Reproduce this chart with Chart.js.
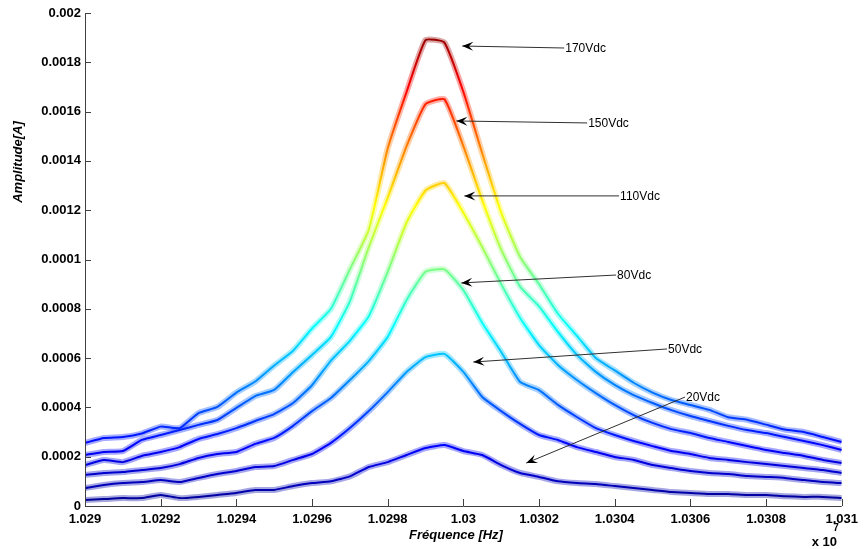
<!DOCTYPE html>
<html>
<head>
<meta charset="utf-8">
<script src="https://cdn.jsdelivr.net/npm/chart.js@4.4.0/dist/chart.umd.min.js"></script>
<style>
  html, body { margin: 0; padding: 0; background: #fff; }
</style>
</head>
<body>
<canvas id="chart" width="864" height="549"></canvas>
<script>
// ============================================================
// DONNÉES — amplitude du courant (A) en fonction de la fréquence
// fréquences en unités de 1e7 Hz (axe "x 10^7")
// ============================================================
const frequences = [
  1.02900, 1.02905, 1.02910, 1.02915, 1.02920, 1.02925, 1.02930, 1.02935, 1.02940, 1.02945,
  1.02950, 1.02955, 1.02960, 1.02965, 1.02970, 1.02975, 1.02980, 1.02985, 1.02990, 1.02995,
  1.03000, 1.03005, 1.03010, 1.03015, 1.03020, 1.03025, 1.03030, 1.03035, 1.03040, 1.03045,
  1.03050, 1.03055, 1.03060, 1.03065, 1.03070, 1.03075, 1.03080, 1.03085, 1.03090, 1.03095,
  1.03100
];

const amp170 = [
  0.000256, 0.000276, 0.000280, 0.000294, 0.000322, 0.000316, 0.000377, 0.000402, 0.000460, 0.000505,
  0.000570, 0.000630, 0.000720, 0.000800, 0.000960, 0.001120, 0.001450, 0.001680, 0.001890, 0.001880,
  0.001680, 0.001430, 0.001190, 0.001010, 0.000900, 0.000780, 0.000690, 0.000600, 0.000550, 0.000500,
  0.000460, 0.000430, 0.000410, 0.000390, 0.000360, 0.000350, 0.000330, 0.000310, 0.000300, 0.000280,
  0.000260
];
const amp150 = [
  0.000207, 0.000219, 0.000223, 0.000268, 0.000288, 0.000308, 0.000329, 0.000349, 0.000398, 0.000446,
  0.000471, 0.000544, 0.000613, 0.000686, 0.000830, 0.001050, 0.001250, 0.001460, 0.001630, 0.001650,
  0.001460, 0.001240, 0.001040, 0.000890, 0.000810, 0.000706, 0.000613, 0.000544, 0.000491, 0.000450,
  0.000418, 0.000389, 0.000365, 0.000345, 0.000325, 0.000308, 0.000296, 0.000280, 0.000264, 0.000247,
  0.000227
];
const amp110 = [
  0.000166, 0.000187, 0.000178, 0.000203, 0.000219, 0.000239, 0.000272, 0.000292, 0.000316, 0.000345,
  0.000373, 0.000418, 0.000490, 0.000590, 0.000670, 0.000770, 0.000950, 0.001150, 0.001280, 0.001310,
  0.001190, 0.001050, 0.000900, 0.000763, 0.000653, 0.000572, 0.000511, 0.000458, 0.000410, 0.000369,
  0.000337, 0.000312, 0.000296, 0.000276, 0.000260, 0.000243, 0.000227, 0.000215, 0.000203, 0.000187,
  0.000174
];
const amp80 = [
  0.000126, 0.000134, 0.000138, 0.000146, 0.000154, 0.000170, 0.000195, 0.000211, 0.000219, 0.000252,
  0.000276, 0.000325, 0.000385, 0.000438, 0.000511, 0.000588, 0.000686, 0.000836, 0.000950, 0.000960,
  0.000876, 0.000742, 0.000625, 0.000503, 0.000470, 0.000410, 0.000361, 0.000316, 0.000288, 0.000264,
  0.000243, 0.000223, 0.000211, 0.000195, 0.000187, 0.000178, 0.000170, 0.000162, 0.000154, 0.000146,
  0.000134
];
const amp50 = [
  0.000073, 0.000085, 0.000093, 0.000097, 0.000105, 0.000097, 0.000114, 0.000130, 0.000142, 0.000158,
  0.000162, 0.000187, 0.000211, 0.000256, 0.000316, 0.000385, 0.000462, 0.000544, 0.000604, 0.000617,
  0.000544, 0.000442, 0.000385, 0.000333, 0.000288, 0.000268, 0.000239, 0.000219, 0.000199, 0.000187,
  0.000166, 0.000154, 0.000142, 0.000134, 0.000130, 0.000122, 0.000118, 0.000114, 0.000105, 0.000097,
  0.000093
];
const amp20 = [
  0.000024, 0.000028, 0.000032, 0.000032, 0.000045, 0.000032, 0.000037, 0.000045, 0.000053, 0.000065,
  0.000065, 0.000081, 0.000093, 0.000100, 0.000120, 0.000158, 0.000178, 0.000207, 0.000235, 0.000247,
  0.000223, 0.000207, 0.000166, 0.000134, 0.000118, 0.000100, 0.000093, 0.000089, 0.000081, 0.000073,
  0.000065, 0.000057, 0.000053, 0.000049, 0.000049, 0.000045, 0.000045, 0.000040, 0.000037, 0.000037,
  0.000032
];

const series = [amp20, amp50, amp80, amp110, amp150, amp170];

// graduations
const xTicks      = [1.029, 1.0292, 1.0294, 1.0296, 1.0298, 1.03, 1.0302, 1.0304, 1.0306, 1.0308, 1.031];
const xTickLabels = ['1.029', '1.0292', '1.0294', '1.0296', '1.0298', '1.03', '1.0302', '1.0304', '1.0306', '1.0308', '1.031'];
const yTicks      = [0, 0.0002, 0.0004, 0.0006, 0.0008, 0.001, 0.0012, 0.0014, 0.0016, 0.0018, 0.002];
const yTickLabels = ['0', '0.0002', '0.0004', '0.0006', '0.0008', '0.0001', '0.0012', '0.0014', '0.0016', '0.0018', '0.002'];

// flèches d'annotation (coordonnées en données)
const etiquettes = ['170Vdc', '150Vdc', '110Vdc', '80Vdc', '50Vdc', '20Vdc'];
const queueX = [1.0302665, 1.0303272, 1.0304116, 1.0304037, 1.0305383, 1.0305858];
const queueY = [0.001858, 0.001554, 0.001258, 0.000937, 0.000637, 0.000442];
const teteX  = [1.0299970, 1.0299815, 1.0300026, 1.0299947, 1.0300264, 1.0301662];
const teteY  = [0.001866, 0.001562, 0.001258, 0.000905, 0.000584, 0.000174];

const FONT = "'Liberation Sans', Arial, sans-serif";

// ============================================================
// COULEUR "JET" selon l'amplitude (dégradé vertical)
// ============================================================
const JET = [[0, 0, 0, 143], [0.125, 0, 0, 255], [0.375, 0, 255, 255],
             [0.625, 255, 255, 0], [0.875, 255, 0, 0], [1, 128, 0, 0]];
const cacheDegrades = {};
function degradeJet(alpha) {
  return ctx => {
    const chart = ctx.chart;
    if (!chart.chartArea) return 'rgba(0,0,255,' + alpha + ')';
    const y = chart.scales.y;
    const y0 = y.getPixelForValue(0);
    const y1 = y.getPixelForValue(0.00194);
    const cle = alpha + ':' + y0 + ':' + y1;
    if (!cacheDegrades[cle]) {
      const g = chart.ctx.createLinearGradient(0, y0, 0, y1);
      JET.forEach(([p, r, v, b]) => g.addColorStop(p, `rgba(${r},${v},${b},${alpha})`));
      cacheDegrades[cle] = g;
    }
    return cacheDegrades[cle];
  };
}

// ============================================================
// PLUGIN — axes, graduations intérieures, titres, flèches
// ============================================================
const habillage = {
  id: 'habillage',
  afterDraw(chart) {
    const { ctx, chartArea: a, scales: { x, y } } = chart;
    ctx.save();

    // axes gauche et bas
    ctx.strokeStyle = '#404040';
    ctx.lineWidth = 1;
    ctx.beginPath();
    ctx.moveTo(a.left + 0.5, a.top);
    ctx.lineTo(a.left + 0.5, a.bottom + 0.5);
    ctx.lineTo(a.right, a.bottom + 0.5);
    // graduations vers l'intérieur
    xTicks.forEach(v => {
      const px = Math.round(x.getPixelForValue(v)) + 0.5;
      ctx.moveTo(px, a.bottom);
      ctx.lineTo(px, a.bottom - 7);
    });
    yTicks.forEach(v => {
      const py = Math.round(y.getPixelForValue(v)) + 0.5;
      ctx.moveTo(a.left, py);
      ctx.lineTo(a.left + 6, py);
    });
    ctx.stroke();

    // flèches
    ctx.strokeStyle = '#303030';
    ctx.fillStyle = '#000';
    etiquettes.forEach((txt, i) => {
      const x0 = x.getPixelForValue(queueX[i]), y0 = y.getPixelForValue(queueY[i]);
      const x1 = x.getPixelForValue(teteX[i]),  y1 = y.getPixelForValue(teteY[i]);
      ctx.beginPath();
      ctx.moveTo(x0, y0);
      ctx.lineTo(x1, y1);
      ctx.stroke();
      const ang = Math.atan2(y1 - y0, x1 - x0);
      const c = Math.cos(ang), s = Math.sin(ang);
      const L = 11, W = 4.5;
      ctx.beginPath();
      ctx.moveTo(x1, y1);
      ctx.lineTo(x1 - L * c - W * s, y1 - L * s + W * c);
      ctx.lineTo(x1 - 0.6 * L * c, y1 - 0.6 * L * s);
      ctx.lineTo(x1 - L * c + W * s, y1 - L * s - W * c);
      ctx.closePath();
      ctx.fill();
      ctx.font = '12px ' + FONT;
      ctx.textAlign = 'left';
      ctx.textBaseline = 'middle';
      ctx.fillText(txt, x0 + 1, y0 + 1);
    });

    // titres des axes
    ctx.fillStyle = '#000';
    ctx.font = 'italic bold 13px ' + FONT;
    ctx.textAlign = 'center';
    ctx.textBaseline = 'middle';
    ctx.fillText('Fréquence [Hz]', 456, 535);
    ctx.save();
    ctx.translate(18, 162);
    ctx.rotate(-Math.PI / 2);
    ctx.fillText('Amplitude[A]', 0, 0);
    ctx.restore();

    // facteur d'échelle x 10^7
    ctx.font = 'bold 13px ' + FONT;
    ctx.textAlign = 'right';
    ctx.fillText('x 10', 837, 542);
    ctx.font = 'bold 10px ' + FONT;
    ctx.textAlign = 'center';
    ctx.fillText('7', 836, 528);

    ctx.restore();
  }
};

// ============================================================
// GRAPHIQUE — chaque tension : une bande claire (maillage) + un trait
// ============================================================
const datasets = [];
series.forEach((s, i) => {
  const points = frequences.map((f, k) => ({ x: f, y: s[k] }));
  const nom = etiquettes[etiquettes.length - 1 - i];
  datasets.push({
    label: nom + ' (bande)',
    data: points,
    borderColor: degradeJet(0.35),
    borderWidth: 6,
    pointRadius: 0,
    fill: false,
    tension: 0.15,
  });
  datasets.push({
    label: nom,
    data: points,
    borderColor: degradeJet(1),
    borderWidth: 2,
    pointRadius: 0,
    fill: false,
    tension: 0.15,
  });
});

new Chart(document.getElementById('chart'), {
  type: 'line',
  data: { datasets },
  options: {
    responsive: false,
    animation: false,
    layout: { padding: { left: 0, right: 21, top: 13, bottom: 0 } },
    plugins: {
      legend: { display: false },
      tooltip: { enabled: false }
    },
    scales: {
      x: {
        type: 'linear',
        min: 1.029,
        max: 1.031,
        afterFit: s => { s.height = 43; },
        afterBuildTicks: s => { s.ticks = xTicks.map(v => ({ value: v })); },
        border: { display: false },
        grid: { display: false, drawTicks: false },
        ticks: {
          padding: 6,
          color: '#000',
          font: { family: FONT, size: 13, weight: 'bold' },
          maxRotation: 0,
          callback: (v, i) => xTickLabels[i]
        }
      },
      y: {
        min: 0,
        max: 0.002,
        afterFit: s => { s.width = 85; },
        afterBuildTicks: s => { s.ticks = yTicks.map(v => ({ value: v })); },
        border: { display: false },
        grid: { display: false, drawTicks: false },
        ticks: {
          padding: 4,
          color: '#000',
          font: { family: FONT, size: 13, weight: 'bold' },
          callback: (v, i) => yTickLabels[i]
        }
      }
    }
  },
  plugins: [habillage]
});
</script>
</body>
</html>
